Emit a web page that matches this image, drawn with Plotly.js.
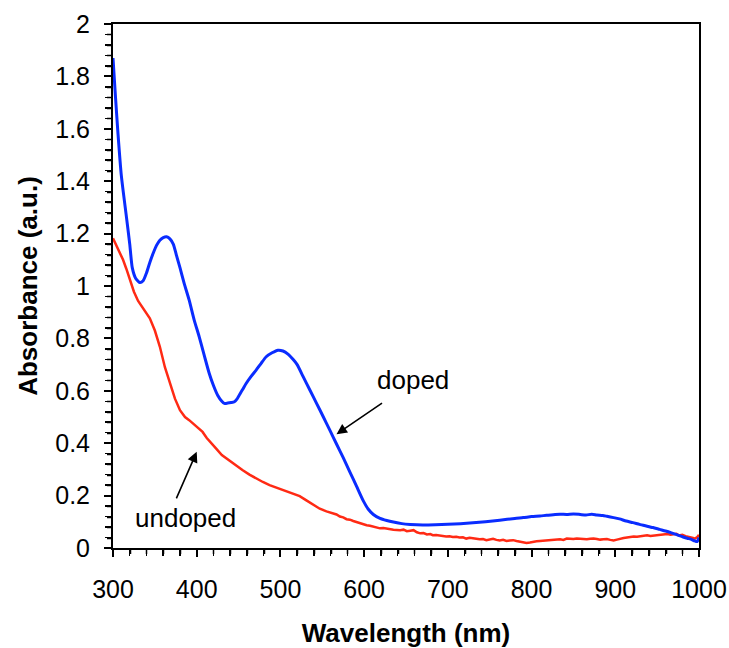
<!DOCTYPE html>
<html>
<head>
<meta charset="utf-8">
<script src="https://cdn.plot.ly/plotly-3.0.1.min.js"></script>
<style>html,body{margin:0;padding:0;background:#fff;} #wrap{position:relative;width:729px;height:648px;} #tickLayer{position:absolute;left:0;top:0;pointer-events:none;}</style>
</head>
<body>
<div id="wrap">
<div id="chart" style="width:729px;height:648px;"></div>
<svg id="tickLayer" width="729" height="648" xmlns="http://www.w3.org/2000/svg"></svg>
</div>
<script>
// Doped sample (blue)
const wlDoped = [300,303,306,310,316,320,323,327,332,336,340,344,348,352,356,360,364,368,372,376,380,385,391,397,403,409,415,420,425,430,433,437,441,445,448,452,455,459,465,471,477,483,490,497,503,509,515,520,527,535,543,551,559,567,575,583,591,599,605,611,619,627,635,645,655,670,685,700,715,730,745,762,780,790,800,810,818,826,834,842,850,858,865,872,878,885,890,898,905,913,921,929,937,945,953,960,967,974,981,986,990,995,998,1000];
const absDoped = [1.87,1.72,1.58,1.42,1.265,1.16,1.07,1.03,1.013,1.02,1.05,1.09,1.125,1.155,1.175,1.185,1.188,1.18,1.16,1.115,1.07,1.01,0.946,0.87,0.806,0.735,0.666,0.62,0.583,0.56,0.552,0.553,0.555,0.558,0.568,0.59,0.606,0.628,0.655,0.679,0.705,0.73,0.745,0.755,0.752,0.74,0.72,0.70,0.655,0.604,0.553,0.502,0.45,0.397,0.345,0.29,0.235,0.18,0.148,0.128,0.113,0.105,0.099,0.093,0.09,0.088,0.089,0.091,0.093,0.096,0.100,0.106,0.113,0.116,0.12,0.122,0.125,0.127,0.129,0.128,0.130,0.128,0.126,0.129,0.126,0.124,0.121,0.116,0.111,0.103,0.097,0.090,0.084,0.078,0.071,0.065,0.058,0.050,0.042,0.037,0.034,0.027,0.025,0.04];

// Undoped sample (red)
const wlUndoped = [300,304,308,312,316,320,325,330,334,339,344,350,356,362,368,374,380,386,391,397,403,407,412,417,423,430,437,447,455,463,471,479,487,495,503,511,517,523,531,539,547,555,563,567,571,575,579,583,587,591,595,599,603,607,611,615,619,623,627,631,635,639,643,647,651,655,659,663,667,671,675,679,682,686,690,694,698,702,706,710,714,718,722,726,730,734,738,742,746,750,754,758,762,766,770,774,778,782,786,790,794,798,802,806,810,814,818,822,826,830,834,838,842,846,850,854,858,862,866,870,874,878,882,886,890,894,898,902,906,910,914,918,922,926,930,934,938,942,946,950,954,958,962,966,969,973,976,980,984,988,990,993,995,998,1000];
const absUndoped = [1.182,1.155,1.128,1.10,1.065,1.028,0.978,0.943,0.924,0.903,0.877,0.83,0.768,0.69,0.628,0.57,0.526,0.50,0.488,0.47,0.455,0.443,0.42,0.40,0.38,0.355,0.338,0.316,0.297,0.28,0.265,0.252,0.24,0.23,0.22,0.21,0.205,0.198,0.182,0.165,0.15,0.14,0.131,0.128,0.120,0.117,0.110,0.108,0.103,0.099,0.093,0.092,0.087,0.085,0.082,0.079,0.075,0.076,0.073,0.071,0.070,0.069,0.068,0.070,0.064,0.066,0.068,0.060,0.056,0.057,0.052,0.053,0.049,0.050,0.048,0.046,0.044,0.045,0.042,0.043,0.040,0.041,0.036,0.039,0.038,0.035,0.033,0.034,0.030,0.033,0.035,0.031,0.029,0.031,0.027,0.029,0.030,0.027,0.024,0.022,0.019,0.021,0.024,0.026,0.027,0.028,0.030,0.029,0.031,0.032,0.033,0.031,0.036,0.035,0.034,0.036,0.035,0.033,0.033,0.035,0.036,0.034,0.032,0.033,0.034,0.031,0.029,0.032,0.036,0.038,0.040,0.042,0.044,0.043,0.045,0.047,0.049,0.046,0.047,0.049,0.050,0.052,0.053,0.051,0.052,0.054,0.048,0.050,0.045,0.043,0.040,0.038,0.036,0.042,0.05];

const xRange = [300, 1000];
const yRange = [0, 2];
const xMajor = 100, xMinor = 20;
const yMajor = 0.2, yMinor = 0.04;

const font = 'Arial, "Liberation Sans", sans-serif';

const traces = [
  {x: wlUndoped, y: absUndoped, type: 'scatter', mode: 'lines', name: 'undoped',
   line: {color: '#ff2a14', width: 2.5}},
  {x: wlDoped, y: absDoped, type: 'scatter', mode: 'lines', name: 'doped',
   line: {color: '#0a2cff', width: 3, shape: 'spline', smoothing: 0.6}}
];

const layout = {
  width: 729, height: 648,
  margin: {l: 113, r: 30, t: 24, b: 100, pad: 0},
  paper_bgcolor: '#fff', plot_bgcolor: '#fff',
  showlegend: false,
  font: {family: font, color: '#000', size: 25},
  xaxis: {
    range: xRange, tickmode: 'linear', tick0: 300, dtick: xMajor,
    ticks: 'outside', ticklen: 7, tickwidth: 2, tickcolor: '#000',
    showline: true, linewidth: 2, linecolor: '#000', mirror: true,
    showgrid: false, zeroline: false, automargin: false,
    tickfont: {size: 25, family: font, color: '#000'},
    ticklabelstandoff: 11,
    minor: {dtick: xMinor, ticks: 'outside', ticklen: 6, tickwidth: 1.5, tickcolor: '#000', showgrid: false},
    title: {text: '<b>Wavelength (nm)</b>', font: {size: 26, family: font, color: '#000'}, standoff: 32}
  },
  yaxis: {
    range: yRange, tickmode: 'linear', tick0: 0, dtick: yMajor,
    ticks: 'outside', ticklen: 7, tickwidth: 2, tickcolor: '#000',
    showline: true, linewidth: 2, linecolor: '#000', mirror: true,
    showgrid: false, zeroline: false, automargin: false,
    tickfont: {size: 25, family: font, color: '#000'},
    ticklabelstandoff: 9,
    minor: {dtick: yMinor, ticks: 'outside', ticklen: 6, tickwidth: 1.5, tickcolor: '#000', showgrid: false},
    title: {text: '<b>Absorbance (a.u.)</b>', font: {size: 26, family: font, color: '#000'}, standoff: 10}
  },
  annotations: [
    {x: 567, y: 0.4345, xref: 'x', yref: 'y', ax: 47, ay: -32, showarrow: true,
     arrowhead: 2, arrowsize: 1.3, arrowwidth: 1.6, arrowcolor: '#000', text: ''},
    {x: 658, y: 0.641, xref: 'x', yref: 'y', showarrow: false, text: 'doped',
     font: {size: 26, family: font, color: '#000'}},
    {x: 400, y: 0.367, xref: 'x', yref: 'y', ax: -21, ay: 48, showarrow: true,
     arrowhead: 2, arrowsize: 1.3, arrowwidth: 1.6, arrowcolor: '#000', text: ''},
    {x: 386.7, y: 0.1135, xref: 'x', yref: 'y', showarrow: false, text: 'undoped',
     font: {size: 26, family: font, color: '#000'}}
  ]
};

// Tick marks placed through Plotly's own axis scales (drawn on top so they are always visible)
function drawTickMarks(gd) {
  const NS = 'http://www.w3.org/2000/svg';
  const svg = document.getElementById('tickLayer');
  while (svg.firstChild) svg.removeChild(svg.firstChild);
  const xa = gd._fullLayout.xaxis, ya = gd._fullLayout.yaxis;
  const bottom = ya._offset + ya._length;
  const left = xa._offset;
  function seg(x1, y1, x2, y2, w) {
    const l = document.createElementNS(NS, 'line');
    l.setAttribute('x1', x1); l.setAttribute('y1', y1);
    l.setAttribute('x2', x2); l.setAttribute('y2', y2);
    l.setAttribute('stroke', '#000'); l.setAttribute('stroke-width', w);
    svg.appendChild(l);
  }
  const nx = Math.round((xRange[1] - xRange[0]) / xMinor);
  const perX = Math.round(xMajor / xMinor);
  for (let i = 0; i <= nx; i++) {
    const v = xRange[0] + i * xMinor;
    const major = i % perX === 0;
    const px = Math.round(xa._offset + xa.l2p(v)) + (major ? 0 : 0.5);
    seg(px, bottom, px, bottom + (major ? 7 : 6), major ? 2 : 1.5);
  }
  const ny = Math.round((yRange[1] - yRange[0]) / yMinor);
  const perY = Math.round(yMajor / yMinor);
  for (let i = 0; i <= ny; i++) {
    const v = yRange[0] + i * yMinor;
    const major = i % perY === 0;
    const py = Math.round(ya._offset + ya.l2p(v)) + (major ? 0 : 0.5);
    seg(left, py, left - (major ? 7 : 6), py, major ? 2 : 1.5);
  }
}

Plotly.newPlot('chart', traces, layout, {displayModeBar: false, staticPlot: true}).then(drawTickMarks);
</script>
</body>
</html>
